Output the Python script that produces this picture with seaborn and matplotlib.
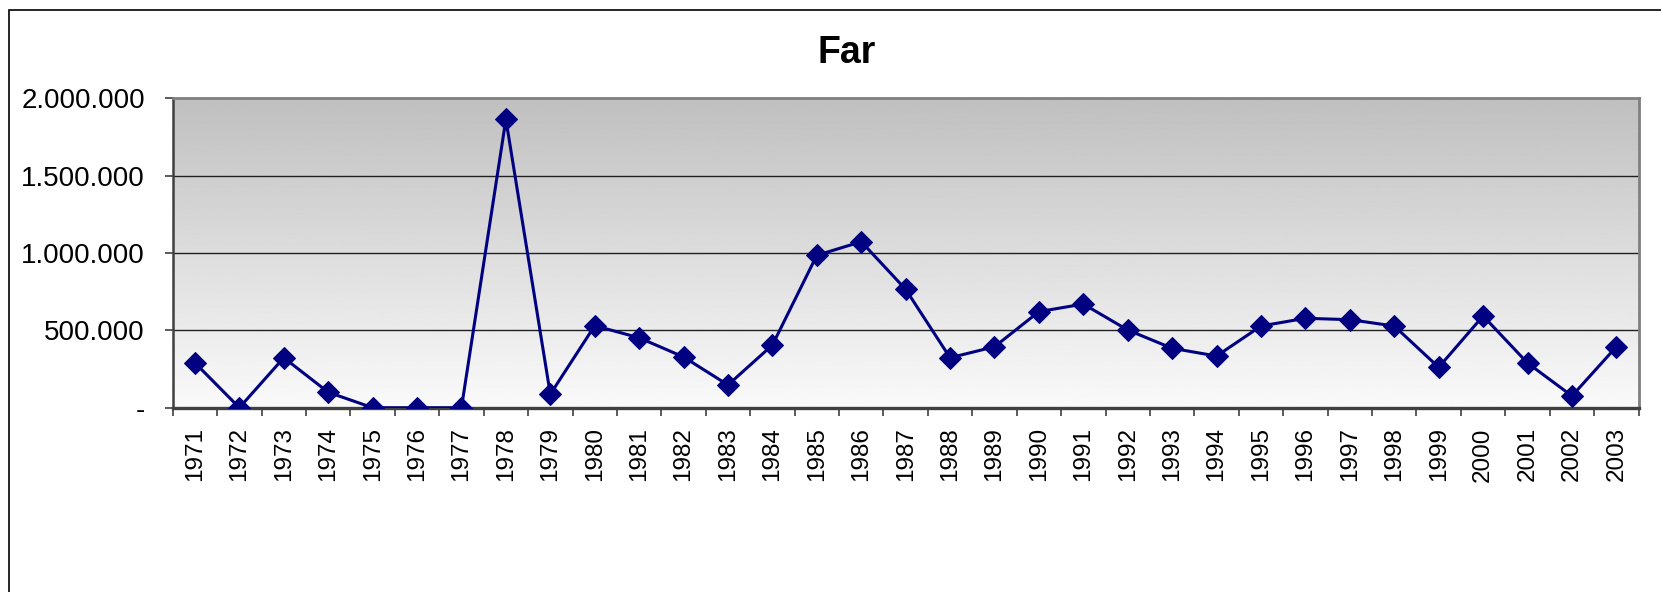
import numpy as np
import pandas as pd
import seaborn as sns
import matplotlib.pyplot as plt
from matplotlib.ticker import FuncFormatter, FixedLocator
from matplotlib.patches import Rectangle

years = list(range(1971, 2004))
far = [290000, 0, 323000, 100000, 0, 0, 0, 1864000, 87000, 530000,
       452000, 328000, 147000, 405000, 985000, 1073000, 765000, 323000,
       394000, 621000, 670000, 502000, 384000, 334000, 528000, 578000,
       569000, 528000, 261000, 593000, 289000, 76000, 394000]
y_ticks = [0, 500000, 1000000, 1500000, 2000000]

df = pd.DataFrame({"year": years, "far": far})

sns.set_style("white")
plt.rcParams['font.family'] = ['Liberation Sans', 'DejaVu Sans']
plt.rcParams['text.color'] = 'black'
plt.rcParams['xtick.color'] = 'black'
plt.rcParams['ytick.color'] = 'black'

fig = plt.figure(figsize=(16.61, 5.92), dpi=100)
ax = fig.add_axes([0.104, 0.3113, 0.8825, 0.5227])

# outer chart frame
fig.patches.append(Rectangle((9 / 1661, -0.2), 1.2, 1 - 10 / 592 + 0.2,
                             transform=fig.transFigure, fill=False,
                             edgecolor="black", linewidth=1.2))

# gradient background of the plot area
grad = np.linspace(0.98, 0.75, 256).reshape(-1, 1)
ax.imshow(grad, extent=[0, 1, 0, 1], transform=ax.transAxes, cmap="gray",
          vmin=0, vmax=1, aspect="auto", origin="lower", zorder=0)

sns.lineplot(data=df, x="year", y="far", ax=ax, color="#000080",
             linewidth=2.2, marker="D", markersize=11,
             markeredgecolor="#000080", zorder=3)

ax.set_xlim(1970.5, 2003.5)
ax.set_ylim(0, 2000000)

ax.yaxis.set_major_locator(FixedLocator(y_ticks))
ax.yaxis.set_major_formatter(FuncFormatter(
    lambda v, p: "-" if v == 0 else f"{int(v):,}".replace(",", ".")))
for v in y_ticks[1:-1]:
    ax.axhline(v, color="#202020", linewidth=1.0, zorder=1)

ax.set_xticks(years)
ax.set_xticklabels([str(y) for y in years], rotation=90)
ax.set_xticks([y - 0.5 for y in years] + [2003.5], minor=True)
ax.tick_params(axis="x", which="major", length=0, pad=14, labelsize=17.5)
ax.tick_params(axis="x", which="minor", length=6, width=1.2,
               color="#404040", direction="out", bottom=True)
ax.tick_params(axis="y", which="major", length=6, width=1.2,
               color="#404040", labelcolor="black", direction="out",
               left=True, pad=14, labelsize=20)

ax.spines["left"].set_color("#404040")
ax.spines["left"].set_linewidth(1.8)
ax.spines["bottom"].set_color("#404040")
ax.spines["bottom"].set_linewidth(2.4)
for s in ["top", "right"]:
    ax.spines[s].set_visible(True)
    ax.spines[s].set_color("#808080")
    ax.spines[s].set_linewidth(2.0)

ax.set_xlabel("")
ax.set_ylabel("")
fig.text(0.51, 1 - 53 / 592, "Far", ha="center", va="center",
         fontsize=27, fontweight="bold", color="black")

fig.savefig("out.png", dpi=100)
